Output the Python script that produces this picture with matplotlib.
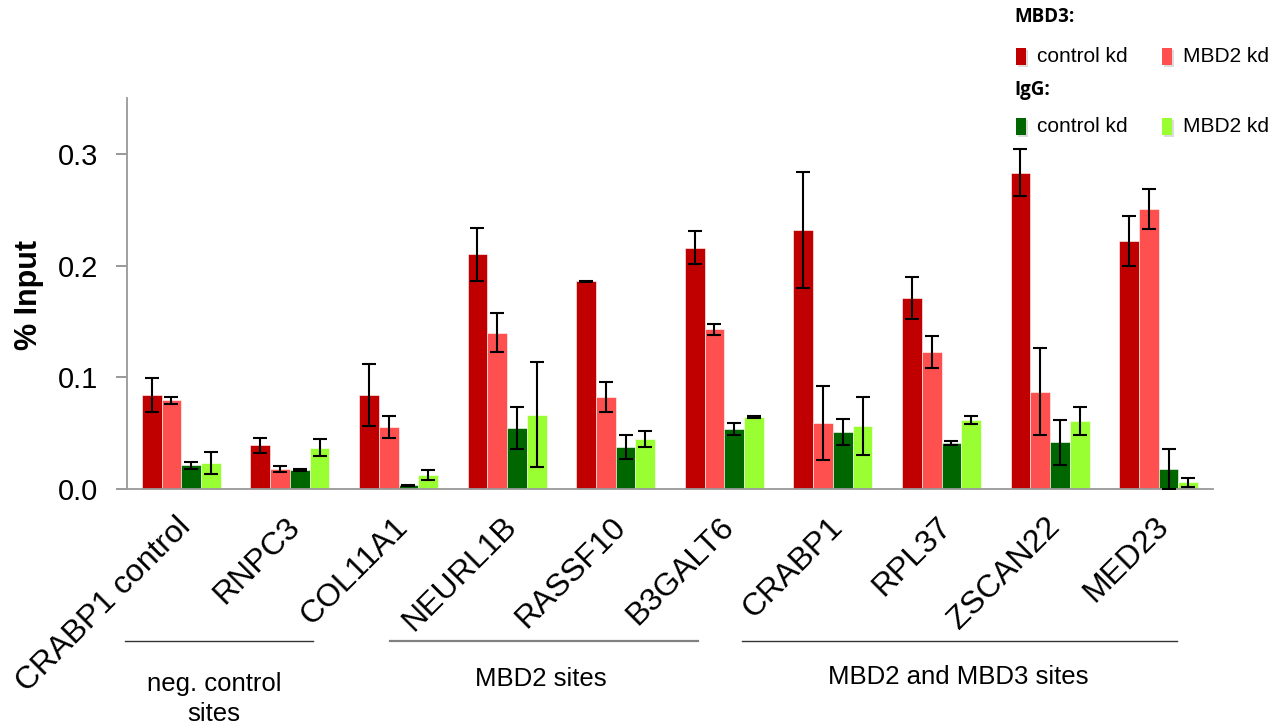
import matplotlib
matplotlib.use("Agg")
import matplotlib.pyplot as plt
import numpy as np
from matplotlib.patches import Rectangle
from matplotlib.lines import Line2D
from matplotlib import transforms

# ---------------- data ----------------
genes = ["CRABP1 control", "RNPC3", "COL11A1", "NEURL1B", "RASSF10",
         "B3GALT6", "CRABP1", "RPL37", "ZSCAN22", "MED23"]

mbd3_ctrl     = [0.084, 0.039, 0.084, 0.210, 0.186, 0.216, 0.232, 0.171, 0.283, 0.222]
mbd3_ctrl_err = [0.015, 0.0066, 0.028, 0.0236, 0.0005, 0.015, 0.052, 0.0187, 0.021, 0.0228]
mbd3_mbd2     = [0.0795, 0.018, 0.0555, 0.140, 0.0824, 0.143, 0.0588, 0.1227, 0.0872, 0.2507]
mbd3_mbd2_err = [0.003, 0.003, 0.0098, 0.0178, 0.0133, 0.005, 0.033, 0.0143, 0.0393, 0.0178]
igg_ctrl      = [0.0212, 0.017, 0.0033, 0.0546, 0.0373, 0.0534, 0.051, 0.0412, 0.0418, 0.0179]
igg_ctrl_err  = [0.003, 0.001, 0.0003, 0.019, 0.0106, 0.0055, 0.0113, 0.0018, 0.0203, 0.018]
igg_mbd2      = [0.023, 0.037, 0.0122, 0.0663, 0.0445, 0.0645, 0.0564, 0.0618, 0.0609, 0.006]
igg_mbd2_err  = [0.0098, 0.0078, 0.0045, 0.047, 0.0072, 0.0005, 0.0257, 0.0033, 0.0122, 0.0042]

yticks = [0.0, 0.1, 0.2, 0.3]
ytick_labels = ["0.0", "0.1", "0.2", "0.3"]
group_names = ["neg. control\nsites", "MBD2 sites", "MBD2 and MBD3 sites"]

# ---------------- style ----------------
C_RED = "#C00000"
C_PINK = "#FF5050"
C_DKG = "#006600"
C_LTG = "#99FF33"
ARIAL = ["Liberation Sans", "DejaVu Sans"]

W, H = 1286, 724
fig = plt.figure(figsize=(W / 100, H / 100), dpi=100)
ax = fig.add_axes([127 / W, 1 - 489 / H, (1213 - 127) / W, (489 - 98) / H])

x = np.arange(len(genes))
bw = 0.182
series = [(mbd3_ctrl, mbd3_ctrl_err, C_RED),
          (mbd3_mbd2, mbd3_mbd2_err, C_PINK),
          (igg_ctrl, igg_ctrl_err, C_DKG),
          (igg_mbd2, igg_mbd2_err, C_LTG)]
for k, (vals, errs, col) in enumerate(series):
    ax.bar(x + (k - 1.5) * bw, vals, width=bw, color=col, edgecolor="white",
           linewidth=0.4, zorder=2,
           yerr=errs, error_kw=dict(ecolor="black", elinewidth=1.5,
                                    capsize=5, capthick=1.5, zorder=3))

ax.set_xlim(-0.5, len(genes) - 0.5)
ax.set_ylim(0, 0.35)
ax.set_yticks(yticks)
ax.set_yticklabels(ytick_labels, fontsize=21, family=ARIAL)
ax.tick_params(axis="y", length=8, width=1.2, color="#888888", pad=13, direction="out")
ax.set_xticks([])
for s in ["top", "right"]:
    ax.spines[s].set_visible(False)
for s in ["left", "bottom"]:
    ax.spines[s].set_color("#999999")
    ax.spines[s].set_linewidth(1.3)

fig.text(29 / W, 1 - 295 / H, "% Input", rotation=90, ha="center", va="center",
         fontsize=22, fontweight="bold", family=ARIAL)

# rotated gene labels, right end near each group's centre
trans = transforms.blended_transform_factory(ax.transData, ax.transAxes)
for xi, g in zip(x, genes):
    ax.text(xi - 0.05, -0.058, g, transform=trans, rotation=45, rotation_mode="anchor",
            ha="right", va="top", fontsize=23, family=ARIAL, clip_on=False)

# group lines and labels (figure pixel layout)
def fx(px):
    return px / W

def fy(py):
    return 1 - py / H

group_lines = [(125, 313, "#333333", 1.0), (390, 698, "#808080", 1.6), (742, 1177, "#333333", 1.0)]
for x0, x1, c, lw in group_lines:
    fig.add_artist(Line2D([fx(x0), fx(x1)], [fy(641), fy(641)], color=c, lw=lw))
group_text_pos = [(214, 699), (541, 679), (958, 677)]
for (px, py), t in zip(group_text_pos, group_names):
    fig.text(fx(px), fy(py), t, ha="center", va="center", fontsize=18.5,
             family=ARIAL, linespacing=1.35)

# legend
legend_items = [("MBD3:", [("control kd", C_RED), ("MBD2 kd", C_PINK)], 17, 56),
                ("IgG:", [("control kd", C_DKG), ("MBD2 kd", C_LTG)], 90, 126)]
col_x = [1016, 1162]
for head, entries, hy, ry in legend_items:
    fig.text(fx(1014), fy(hy), head, ha="left", va="center", fontsize=13.5,
             fontweight="bold", family=["Open Sans", "DejaVu Sans"])
    for (lab, col), cx in zip(entries, col_x):
        fig.add_artist(Rectangle((fx(cx + 2), fy(ry + 11)), 10 / W, 17 / H,
                                 facecolor="#bbbbbb", edgecolor="none", alpha=0.5))
        fig.add_artist(Rectangle((fx(cx), fy(ry + 9)), 10 / W, 17 / H,
                                 facecolor=col, edgecolor="none"))
        fig.text(fx(cx + 21), fy(ry), lab, ha="left", va="center", fontsize=15,
                 family=ARIAL)

fig.savefig("out.png", dpi=100)
